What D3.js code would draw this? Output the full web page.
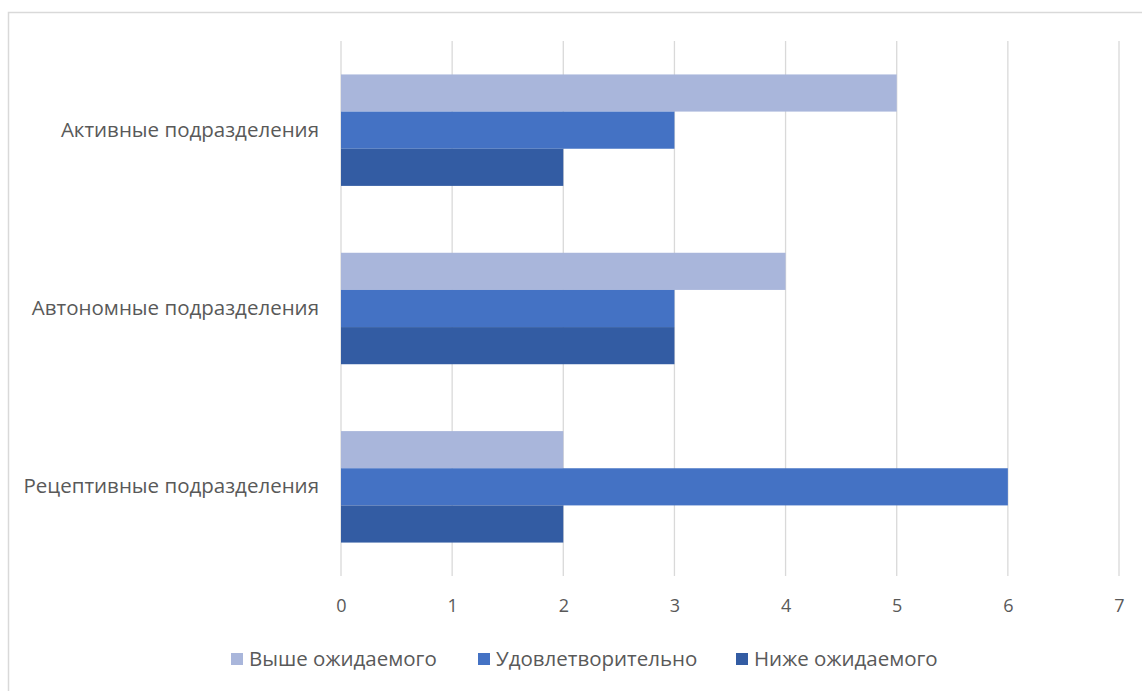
<!DOCTYPE html>
<html><head><meta charset="utf-8">
<script src="https://cdn.jsdelivr.net/npm/d3@7"></script>
<style>body{margin:0;background:#fff}svg{display:block}</style>
</head><body>
<svg id="c" width="1142" height="691"></svg>
<script>
const categories = ["Активные подразделения","Автономные подразделения","Рецептивные подразделения"];
const seriesNames = ["Выше ожидаемого","Удовлетворительно","Ниже ожидаемого"];
const above = [5, 4, 2];
const satisfactory = [3, 3, 6];
const below = [2, 3, 2];
const tickValues = [0,1,2,3,4,5,6,7];
const colors = ["#A9B6DB","#4472C4","#335CA3"];

(function(){
const series = [above, satisfactory, below];
const svg = d3.select("#c");
svg.append("path").attr("d","M8.5,691 V12.5 H1142").attr("fill","none").attr("stroke","#d9d9d9").attr("stroke-width",1.5);

const pL = 341, pR = 1119, pT = 41, pB = 576;
const x = d3.scaleLinear().domain([0,7]).range([pL,pR]);
const y = d3.scaleBand().domain(categories).range([pT,pB]).paddingInner(0.6/1.6).paddingOuter(0.3/1.6);
const yi = d3.scaleBand().domain(seriesNames).range([0,y.bandwidth()]);

svg.append("g").selectAll("line").data(tickValues).join("line")
  .attr("x1",d=>x(d)).attr("x2",d=>x(d)).attr("y1",pT).attr("y2",pB)
  .attr("stroke","#d9d9d9").attr("stroke-width",1.3);

const g = svg.append("g");
series.forEach((vals,si)=>{
  g.append("g").selectAll("rect").data(vals).join("rect")
   .attr("x",x(0)).attr("y",(d,i)=>y(categories[i])+yi(seriesNames[si]))
   .attr("width",d=>x(d)-x(0)).attr("height",yi.bandwidth())
   .attr("fill",colors[si]);
});

const xa = d3.axisBottom(x).tickValues(tickValues).tickFormat(d3.format("d")).tickSize(0).tickPadding(0);
const ax = svg.append("g").attr("transform",`translate(0,${pB})`).call(xa);
ax.select(".domain").remove();
ax.selectAll("text").attr("dy",0).attr("y",36).attr("fill","#595959")
  .style("font-family","'Open Sans',sans-serif").style("font-size","18px");

const ya = d3.axisLeft(y).tickSize(0).tickPadding(22);
const ay = svg.append("g").attr("transform",`translate(${pL},0)`).call(ya);
ay.select(".domain").remove();
ay.selectAll("text").attr("fill","#595959").style("font-family","'Open Sans',sans-serif").style("font-size","20.5px");

const legX = [231, 478, 736];
const leg = svg.append("g").selectAll("g").data(seriesNames).join("g")
  .attr("transform",(d,i)=>`translate(${legX[i]},653)`);
leg.append("rect").attr("width",12).attr("height",12).attr("fill",(d,i)=>colors[i]);
leg.append("text").attr("x",18).attr("y",6).attr("dy","0.35em").text(d=>d)
  .attr("fill","#595959").style("font-family","'Open Sans',sans-serif").style("font-size","20.5px");
})();
</script>
</body></html>
